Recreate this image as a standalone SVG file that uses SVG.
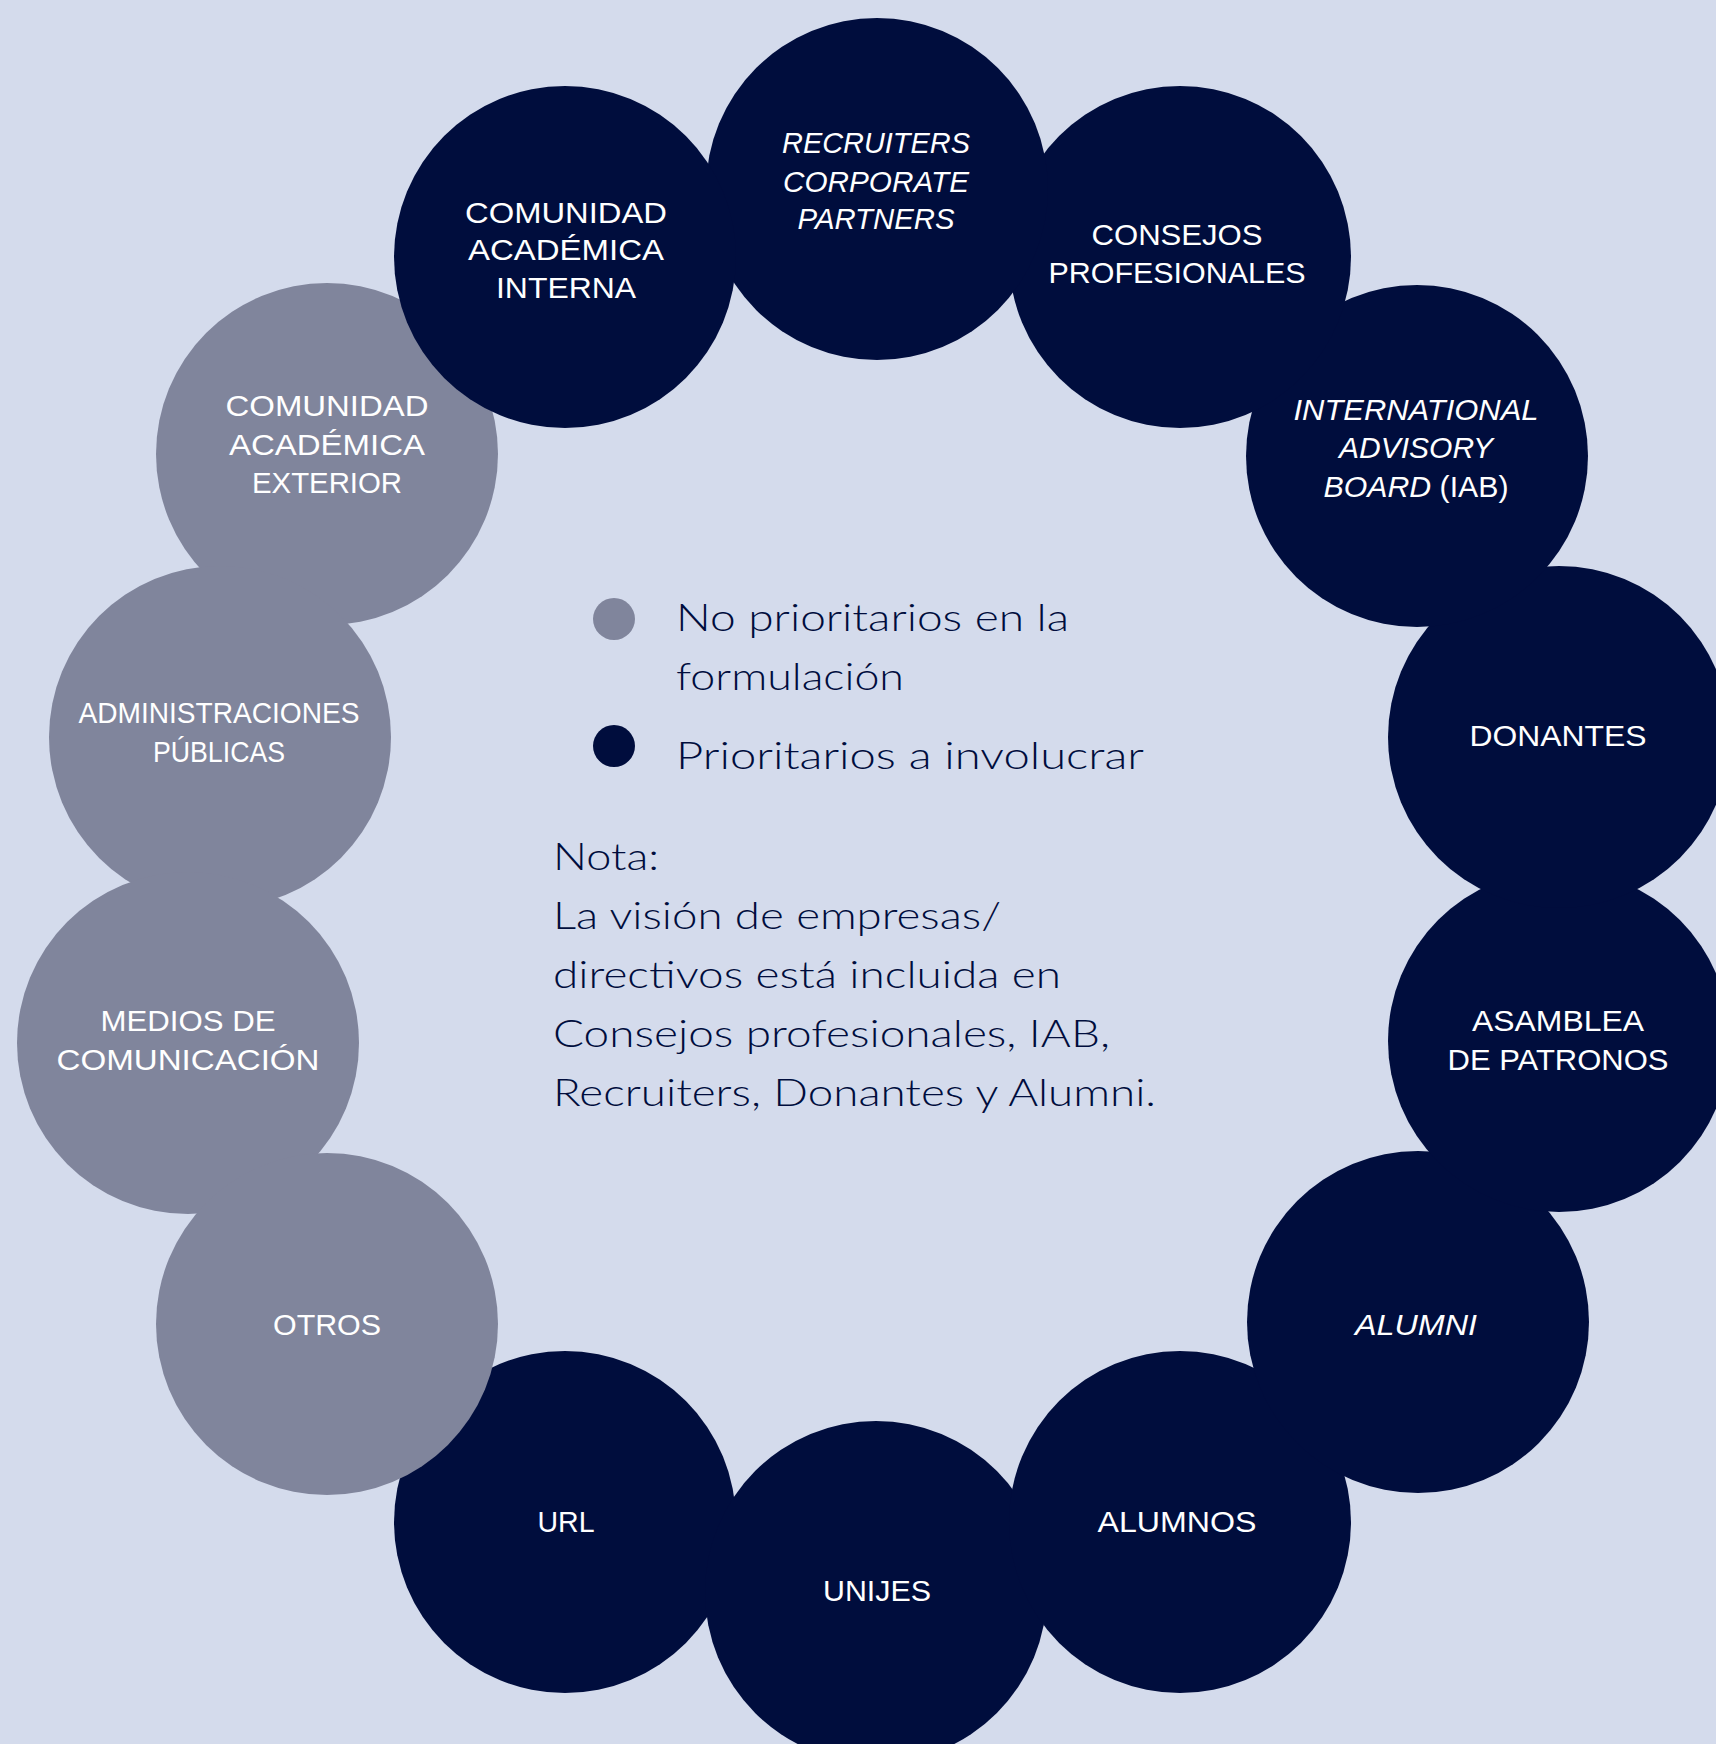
<svg xmlns="http://www.w3.org/2000/svg" width="1716" height="1744" viewBox="0 0 1716 1744">
<style>
.bg{fill:#d4dbec}
.hi{fill:#000d3d}
.lo{fill:#80859c}
.lbl{font-family:"Liberation Sans",Arial,sans-serif;font-size:30px;fill:#ffffff;text-anchor:middle}
.it{font-style:italic}
.leg{font-family:Lato,"Liberation Sans",Arial,sans-serif;font-weight:300;font-size:38px;fill:#000d3d}
</style>
<rect class="bg" x="0" y="0" width="1716" height="1744"/>
<g id="connectors"></g>
<g id="url"><circle class="hi" cx="565" cy="1522" r="171"/><text class="lbl" x="566" y="1532" textLength="57" lengthAdjust="spacingAndGlyphs">URL</text></g>
<g id="unijes"><circle class="hi" cx="876" cy="1592" r="171"/><text class="lbl" x="877" y="1601" textLength="108" lengthAdjust="spacingAndGlyphs">UNIJES</text></g>
<g id="alumnos"><circle class="hi" cx="1180" cy="1522" r="171"/><text class="lbl" x="1177" y="1532" textLength="159" lengthAdjust="spacingAndGlyphs">ALUMNOS</text></g>
<g id="alumni"><circle class="hi" cx="1418" cy="1322" r="171"/><text class="lbl it" x="1416" y="1335" textLength="122" lengthAdjust="spacingAndGlyphs">ALUMNI</text></g>
<g id="asamblea"><circle class="hi" cx="1559" cy="1041" r="171"/><text class="lbl" x="1558" y="1031" textLength="172" lengthAdjust="spacingAndGlyphs">ASAMBLEA</text><text class="lbl" x="1558" y="1070" textLength="221" lengthAdjust="spacingAndGlyphs">DE PATRONOS</text></g>
<g id="donantes"><circle class="hi" cx="1559" cy="737" r="171"/><text class="lbl" x="1558" y="746" textLength="177" lengthAdjust="spacingAndGlyphs">DONANTES</text></g>
<g id="iab"><circle class="hi" cx="1417" cy="456" r="171"/><text class="lbl it" x="1416" y="420" textLength="245" lengthAdjust="spacingAndGlyphs">INTERNATIONAL</text><text class="lbl it" x="1416" y="458" textLength="154" lengthAdjust="spacingAndGlyphs">ADVISORY</text><text class="lbl" x="1416" y="497" textLength="185" lengthAdjust="spacingAndGlyphs"><tspan class="it">BOARD</tspan> (IAB)</text></g>
<g id="consejos"><circle class="hi" cx="1180" cy="257" r="171"/><text class="lbl" x="1177" y="245" textLength="171" lengthAdjust="spacingAndGlyphs">CONSEJOS</text><text class="lbl" x="1177" y="283" textLength="257" lengthAdjust="spacingAndGlyphs">PROFESIONALES</text></g>
<g id="recruiters"><circle class="hi" cx="877" cy="189" r="171"/><text class="lbl it" x="876" y="153" textLength="188" lengthAdjust="spacingAndGlyphs">RECRUITERS</text><text class="lbl it" x="876" y="192" textLength="186" lengthAdjust="spacingAndGlyphs">CORPORATE</text><text class="lbl it" x="876" y="229" textLength="157" lengthAdjust="spacingAndGlyphs">PARTNERS</text></g>
<g id="exterior"><circle class="lo" cx="327" cy="454" r="171"/><text class="lbl" x="327" y="416" textLength="203" lengthAdjust="spacingAndGlyphs">COMUNIDAD</text><text class="lbl" x="327" y="455" textLength="196" lengthAdjust="spacingAndGlyphs">ACADÉMICA</text><text class="lbl" x="327" y="493" textLength="150" lengthAdjust="spacingAndGlyphs">EXTERIOR</text></g>
<g id="administraciones"><circle class="lo" cx="220" cy="737" r="171"/><text class="lbl" x="219" y="723" textLength="281" lengthAdjust="spacingAndGlyphs">ADMINISTRACIONES</text><text class="lbl" x="219" y="762" textLength="132" lengthAdjust="spacingAndGlyphs">PÚBLICAS</text></g>
<g id="medios"><circle class="lo" cx="188" cy="1043" r="171"/><text class="lbl" x="188" y="1031" textLength="175" lengthAdjust="spacingAndGlyphs">MEDIOS DE</text><text class="lbl" x="188" y="1070" textLength="263" lengthAdjust="spacingAndGlyphs">COMUNICACIÓN</text></g>
<g id="otros"><circle class="lo" cx="327" cy="1324" r="171"/><text class="lbl" x="327" y="1335" textLength="108" lengthAdjust="spacingAndGlyphs">OTROS</text></g>
<g id="interna"><circle class="hi" cx="565" cy="257" r="171"/><text class="lbl" x="566" y="223" textLength="202" lengthAdjust="spacingAndGlyphs">COMUNIDAD</text><text class="lbl" x="566" y="260" textLength="196" lengthAdjust="spacingAndGlyphs">ACADÉMICA</text><text class="lbl" x="566" y="298" textLength="140" lengthAdjust="spacingAndGlyphs">INTERNA</text></g>
<g id="legend">
<circle class="lo" cx="614" cy="619" r="21"/>
<text class="leg" x="676" y="631" textLength="393" lengthAdjust="spacingAndGlyphs">No prioritarios en la</text>
<text class="leg" x="676" y="690" textLength="228" lengthAdjust="spacingAndGlyphs">formulación</text>
<circle class="hi" cx="614" cy="746" r="21"/>
<text class="leg" x="676" y="769" textLength="468" lengthAdjust="spacingAndGlyphs">Prioritarios a involucrar</text>
</g>
<g id="nota">
<text class="leg" x="553" y="870" textLength="106" lengthAdjust="spacingAndGlyphs">Nota:</text>
<text class="leg" x="553" y="929" textLength="448" lengthAdjust="spacingAndGlyphs">La visión de empresas/</text>
<text class="leg" x="553" y="988" textLength="508" lengthAdjust="spacingAndGlyphs">directivos está incluida en</text>
<text class="leg" x="553" y="1047" textLength="557" lengthAdjust="spacingAndGlyphs">Consejos profesionales, IAB,</text>
<text class="leg" x="553" y="1106" textLength="603" lengthAdjust="spacingAndGlyphs">Recruiters, Donantes y Alumni.</text>
</g>
</svg>
